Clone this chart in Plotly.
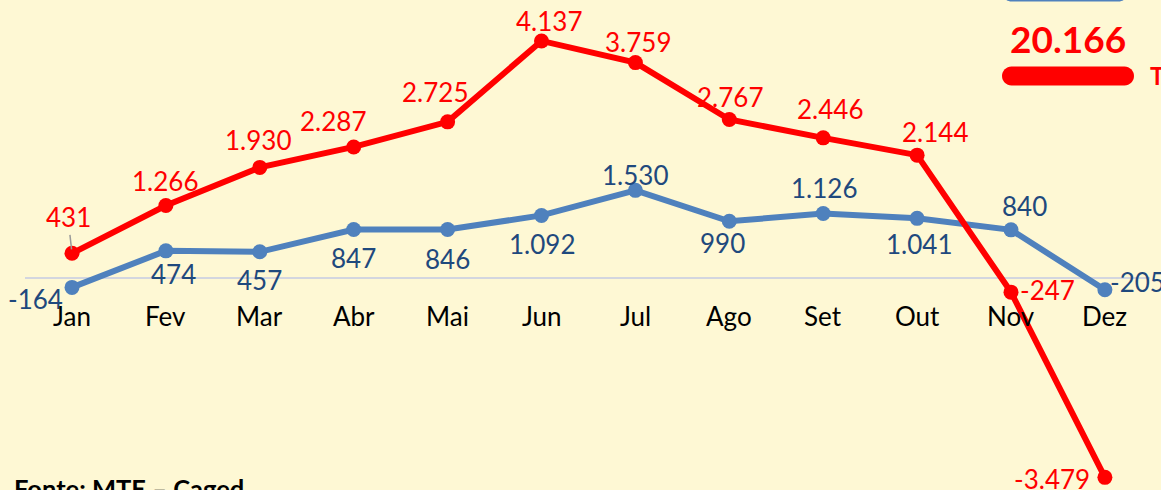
import plotly.graph_objects as go

months = ["Jan", "Fev", "Mar", "Abr", "Mai", "Jun", "Jul", "Ago", "Set", "Out", "Nov", "Dez"]
red_values = [431, 1266, 1930, 2287, 2725, 4137, 3759, 2767, 2446, 2144, -247, -3479]
blue_values = [-164, 474, 457, 847, 846, 1092, 1530, 990, 1126, 1041, 840, -205]
total_text = "20.166"
source_text = "Fonte: MTE – Caged"

# label offsets (pixels): (dx, dy up)
red_offsets = [(-4, 36), (-1, 24), (-2, 27), (-21, 26), (-13, 30), (7, 20), (3, 21),
               (1, 22), (7, 29), (18, 23), (36, 2), (-53, -2)]
blue_offsets = [(-37, -12), (8, -23), (0, -28), (0, -29), (0, -29), (0, -29), (0, 15),
                (-7, -22), (1, 25), (2, -26), (13, 24), (33, 8)]

W, H = 1161, 490
BG = "#FEF8D4"
RED = "#FF0000"
BLUE = "#4F81BD"
DARKBLUE = "#1F497D"
FONT = "Lato"

x_idx = list(range(len(months)))

fig = go.Figure()
fig.add_trace(go.Scatter(x=x_idx, y=blue_values, mode="lines+markers",
                         line=dict(color=BLUE, width=6),
                         marker=dict(color=BLUE, size=15), hoverinfo="skip"))
fig.add_trace(go.Scatter(x=x_idx, y=red_values, mode="lines+markers",
                         line=dict(color=RED, width=6),
                         marker=dict(color=RED, size=15), hoverinfo="skip"))

ann = []
for i, (v, (dx, dy)) in enumerate(zip(red_values, red_offsets)):
    lab = f"{v:,}".replace(",", ".")
    a = dict(x=i, y=v, xref="x", yref="y", text=lab, showarrow=False,
             xshift=dx, yshift=dy, font=dict(family=FONT, size=26, color=RED))
    if i == 0:
        a = dict(x=i, y=v, xref="x", yref="y", text=lab, showarrow=True,
                 ax=dx, ay=-dy, arrowhead=0, arrowcolor="#9A9A9A", arrowwidth=1.5,
                 standoff=4, font=dict(family=FONT, size=26, color=RED))
    ann.append(a)
for i, (v, (dx, dy)) in enumerate(zip(blue_values, blue_offsets)):
    lab = f"{v:,}".replace(",", ".")
    ann.append(dict(x=i, y=v, xref="x", yref="y", text=lab, showarrow=False,
                    xshift=dx, yshift=dy, font=dict(family=FONT, size=26, color=DARKBLUE)))
for i, m in enumerate(months):
    ann.append(dict(x=i, y=0, xref="x", yref="y", text=m, showarrow=False,
                    yshift=-38, yanchor="middle",
                    font=dict(family=FONT, size=26, color="black")))


def px(x):
    return x / W


def py(y):
    return 1 - y / H


ann.append(dict(x=px(1068), y=py(38), xref="paper", yref="paper", text=f"<b>{total_text}</b>",
                showarrow=False, xanchor="center", yanchor="middle",
                font=dict(family=FONT, size=37, color=RED)))
ann.append(dict(x=px(1148), y=py(76), xref="paper", yref="paper", text="<b>Total</b>",
                showarrow=False, xanchor="left", yanchor="middle",
                font=dict(family=FONT, size=24, color=RED)))
ann.append(dict(x=px(12), y=py(505), xref="paper", yref="paper", text=f"<b>{source_text}</b>",
                showarrow=False, xanchor="left", yanchor="bottom",
                font=dict(family=FONT, size=25.5, color="black")))


def pill(x0, x1, yc, h, color):
    r = h / 2
    k = 0.55
    pts = [
        f"M{px(x0 + r)},{py(yc - r)}",
        f"L{px(x1 - r)},{py(yc - r)}",
        f"C{px(x1 - r + r * k)},{py(yc - r)} {px(x1)},{py(yc - r * k)} {px(x1)},{py(yc)}",
        f"C{px(x1)},{py(yc + r * k)} {px(x1 - r + r * k)},{py(yc + r)} {px(x1 - r)},{py(yc + r)}",
        f"L{px(x0 + r)},{py(yc + r)}",
        f"C{px(x0 + r - r * k)},{py(yc + r)} {px(x0)},{py(yc + r * k)} {px(x0)},{py(yc)}",
        f"C{px(x0)},{py(yc - r * k)} {px(x0 + r - r * k)},{py(yc - r)} {px(x0 + r)},{py(yc - r)}",
        "Z",
    ]
    return dict(type="path", xref="paper", yref="paper", path=" ".join(pts),
                fillcolor=color, line=dict(width=0), layer="above")


shapes = [
    dict(type="line", xref="paper", yref="y", x0=px(25), x1=px(1150), y0=0, y1=0,
         line=dict(color="#D3D6DF", width=2), layer="below"),
    pill(1002, 1134, 76, 19, RED),
    pill(1002, 1128, -8, 19, BLUE),
]

scale = 0.0573
zero_px = 278
fig.update_layout(
    width=W, height=H,
    margin=dict(l=0, r=0, t=0, b=0),
    paper_bgcolor=BG, plot_bgcolor=BG,
    showlegend=False,
    xaxis=dict(range=[-72 / 93.9, -72 / 93.9 + W / 93.9], visible=False, fixedrange=True),
    yaxis=dict(range=[-(H - zero_px) / scale, zero_px / scale], visible=False, fixedrange=True),
    annotations=ann,
    shapes=shapes,
)

fig.write_html(
    "out.html",
    config={"displayModeBar": False},
    post_script="document.body.style.margin='0';document.body.style.overflow='hidden';",
)
